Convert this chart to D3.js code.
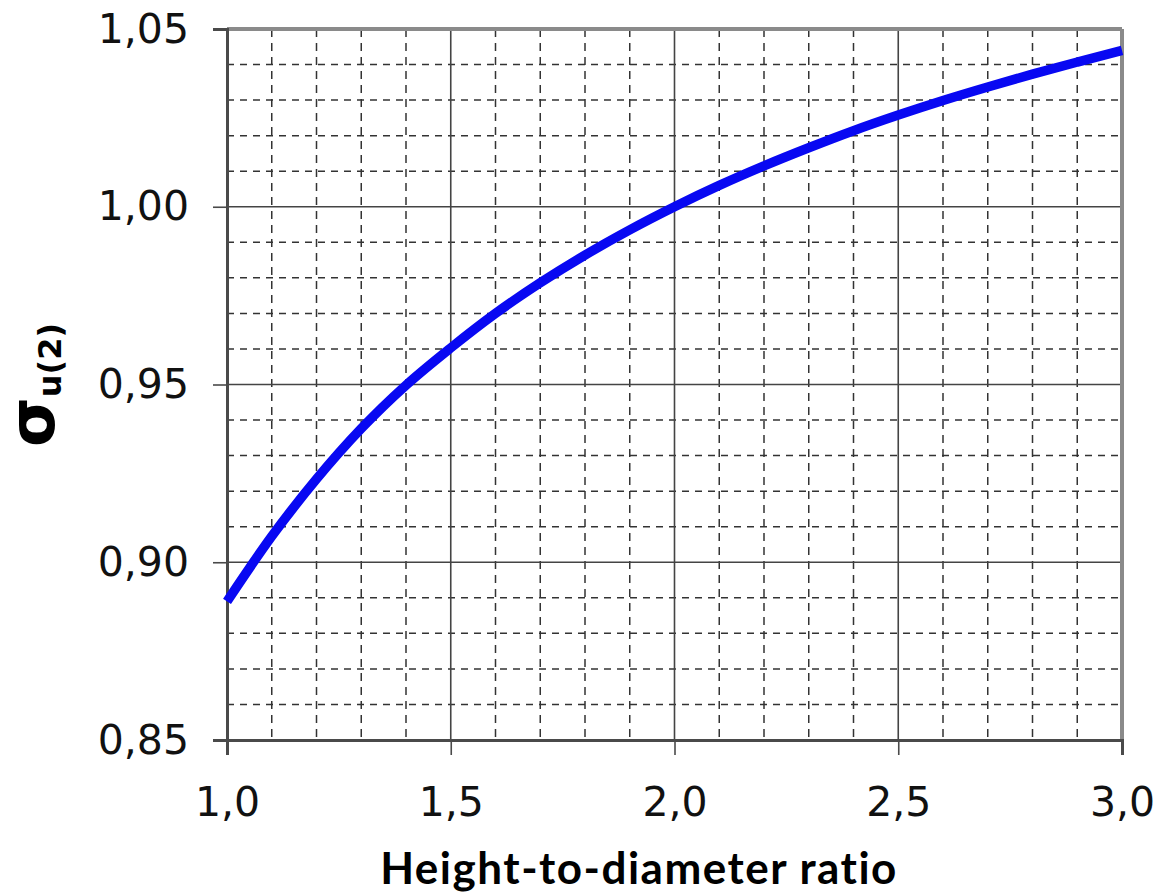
<!DOCTYPE html>
<html lang="en">
<head>
<meta charset="utf-8">
<title>sigma u(2) vs height-to-diameter ratio</title>
<script src="https://cdn.jsdelivr.net/npm/d3@7"></script>
<style>
  body { margin: 0; background: #fff; }
  .tick-label { font-family: "DejaVu Sans", Verdana, sans-serif; font-size: 41px; fill: #111; }
  .x-title { font-family: Lato, "Open Sans", sans-serif; font-weight: bold; font-size: 44px; letter-spacing: 1.5px; fill: #000; }
  .y-title { font-family: "DejaVu Sans", sans-serif; font-weight: bold; fill: #000; }
</style>
</head>
<body>
<svg id="chart" width="1164" height="892"></svg>
<script>
// values
var ratio = [1.0, 1.1, 1.2, 1.3, 1.4, 1.5, 1.6, 1.7, 1.8, 1.9, 2.0,
             2.1, 2.2, 2.3, 2.4, 2.5, 2.6, 2.7, 2.8, 2.9, 3.0];
var sigma = [0.889, 0.9073, 0.9234, 0.9376, 0.9498, 0.9603, 0.9700, 0.9786, 0.9864, 0.9935, 1.0000,
             1.0060, 1.0115, 1.0166, 1.0214, 1.0258, 1.0299, 1.0337, 1.0373, 1.0407, 1.0440];

var xTicks = [1.0, 1.5, 2.0, 2.5, 3.0];
var yTicks = [0.85, 0.90, 0.95, 1.00, 1.05];
var xMinor = [1.1, 1.2, 1.3, 1.4, 1.6, 1.7, 1.8, 1.9, 2.1, 2.2, 2.3, 2.4, 2.6, 2.7, 2.8, 2.9];
var yMinor = [0.86, 0.87, 0.88, 0.89, 0.91, 0.92, 0.93, 0.94, 0.96, 0.97, 0.98, 0.99,
              1.01, 1.02, 1.03, 1.04];

var svg = d3.select("#chart"),
    margin = {top: 29, right: 42, bottom: 152, left: 227},
    width = +svg.attr("width") - margin.left - margin.right,
    height = +svg.attr("height") - margin.top - margin.bottom,
    g = svg.append("g").attr("transform", "translate(" + margin.left + "," + margin.top + ")");

var x = d3.scaleLinear().domain([1.0, 3.0]).range([0, width]);
var y = d3.scaleLinear().domain([0.85, 1.05]).range([height, 0]);

var comma = function(d) { return d3.format(".1f")(d).replace(".", ","); };
var comma2 = function(d) { return d3.format(".2f")(d).replace(".", ","); };

// minor dashed grid
g.selectAll(".vminor").data(xMinor).enter().append("line")
    .attr("x1", function(d) { return x(d); }).attr("x2", function(d) { return x(d); })
    .attr("y1", 0).attr("y2", height)
    .style("stroke", "#333").style("stroke-width", 1.5).style("stroke-dasharray", "8,6");

g.selectAll(".hminor").data(yMinor).enter().append("line")
    .attr("x1", 0).attr("x2", width)
    .attr("y1", function(d) { return y(d); }).attr("y2", function(d) { return y(d); })
    .style("stroke", "#333").style("stroke-width", 1.5).style("stroke-dasharray", "7,6");

// major solid grid
g.selectAll(".vmajor").data(xTicks.slice(1, -1)).enter().append("line")
    .attr("x1", function(d) { return x(d); }).attr("x2", function(d) { return x(d); })
    .attr("y1", 0).attr("y2", height)
    .style("stroke", "#444").style("stroke-width", 1.6);

g.selectAll(".hmajor").data(yTicks.slice(1, -1)).enter().append("line")
    .attr("x1", 0).attr("x2", width)
    .attr("y1", function(d) { return y(d); }).attr("y2", function(d) { return y(d); })
    .style("stroke", "#444").style("stroke-width", 1.6);

// top and right frame
g.append("line").attr("x1", 0).attr("x2", width).attr("y1", 0).attr("y2", 0)
    .style("stroke", "#8a8a8a").style("stroke-width", 4);
g.append("line").attr("x1", width).attr("x2", width).attr("y1", 0).attr("y2", height)
    .style("stroke", "#8a8a8a").style("stroke-width", 4);

// x axis
var xAxis = g.append("g")
    .attr("transform", "translate(0," + height + ")")
    .call(d3.axisBottom(x).tickValues(xTicks).tickFormat(comma).tickSize(15).tickPadding(32));
xAxis.select(".domain").style("stroke", "#4a4a4a").style("stroke-width", 3);
xAxis.selectAll(".tick line").style("stroke", "#4a4a4a").style("stroke-width", 1.6);
xAxis.selectAll(".tick text").attr("class", "tick-label");

// y axis
var yAxis = g.append("g")
    .call(d3.axisLeft(y).tickValues(yTicks).tickFormat(comma2).tickSize(14).tickPadding(24));
yAxis.select(".domain").style("stroke", "#4a4a4a").style("stroke-width", 3);
yAxis.selectAll(".tick line").style("stroke", "#4a4a4a").style("stroke-width", 1.6);
yAxis.selectAll(".tick text").attr("class", "tick-label");
xAxis.attr("font-size", null).attr("font-family", null);
yAxis.attr("font-size", null).attr("font-family", null);

// curve
var line = d3.line()
    .curve(d3.curveMonotoneX)
    .x(function(d, i) { return x(ratio[i]); })
    .y(function(d) { return y(d); });

g.append("path")
    .datum(sigma)
    .attr("d", line)
    .style("fill", "none")
    .style("stroke", "#0808f2")
    .style("stroke-width", 9.5)
    .style("stroke-linecap", "butt");

// axis titles
svg.append("text")
    .attr("class", "x-title")
    .attr("x", 639)
    .attr("y", 884)
    .style("text-anchor", "middle")
    .text("Height-to-diameter ratio");

var yt = svg.append("text")
    .attr("class", "y-title")
    .attr("transform", "translate(54,385) rotate(-90)")
    .style("text-anchor", "middle");
yt.append("tspan").style("font-size", "64px").text("σ");
yt.append("tspan").style("font-size", "32px").attr("dy", 7).text("u(2)");
</script>
</body>
</html>
